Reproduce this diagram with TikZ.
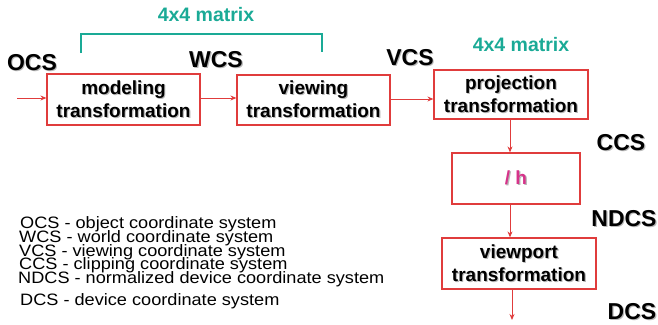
\documentclass[tikz,border=0pt]{standalone}
\usepackage{fontspec}
\setmainfont{Liberation Sans}
\usetikzlibrary{arrows.meta}
\definecolor{boxred}{HTML}{E03C3C}
\definecolor{tealc}{HTML}{1AAA96}
\definecolor{magc}{HTML}{D6338A}
\definecolor{shadowc}{HTML}{B8B8B8}
\newcommand\shtext[1]{\makebox[0pt][l]{\hspace{1.1pt}\raisebox{-1.1pt}{\textcolor{shadowc}{#1}}}#1}
\tikzset{
  tbox/.style={draw=boxred, line width=1.2pt, inner sep=0pt, align=center,
    font=\fontsize{19}{23}\selectfont\bfseries},
  flow/.style={draw=boxred, line width=0.9pt, -{Stealth[length=6pt,width=5pt]}},
  cs/.style={inner sep=1pt, font=\fontsize{23}{26}\selectfont\bfseries},
  mat/.style={text=tealc, font=\fontsize{19.5}{22}\selectfont\bfseries},
  legend/.style={anchor=base west, inner sep=0pt, font=\fontsize{16.5}{18}\selectfont},
}
\begin{document}
\begin{tikzpicture}[x=1pt,y=-1pt]
\useasboundingbox (0,0) rectangle (658,324);
% boxes
\node[tbox, minimum width=153pt, minimum height=51pt] (mod) at (123.5,99.5) {\shtext{modeling}\\\shtext{transformation}};
\node[tbox, minimum width=153pt, minimum height=50pt] (view) at (313.5,100) {\shtext{viewing}\\\shtext{transformation}};
\node[tbox, minimum width=154pt, minimum height=49pt] (proj) at (511,94.5) {\shtext{projection}\\\shtext{transformation}};
\node[tbox, minimum width=128pt, minimum height=51pt, text=magc] (h) at (516,178.5) {\shtext{/ h}};
\node[tbox, minimum width=154pt, minimum height=51pt] (vp) at (519,263.5) {\shtext{viewport}\\\shtext{transformation}};
% coordinate system labels
\node[cs] (ocs) at (32,63) {\shtext{OCS}};
\node[cs] (wcs) at (216,60) {\shtext{WCS}};
\node[cs] (vcs) at (410,58) {\shtext{VCS}};
\node[cs] (ccs) at (621,143) {\shtext{CCS}};
\node[cs] (ndcs) at (624,219) {\shtext{NDCS}};
\node[cs] (dcs) at (632,312) {\shtext{DCS}};
% matrix labels
\node[mat] (m1) at (206,15) {4x4 matrix};
\node[mat] (m2) at (521,45) {4x4 matrix};
\coordinate (bl) at (81,53);
\coordinate (br) at (322,52);
\draw[tealc, line width=1.3pt] (bl) -- (81,34) -- (322,34) -- (br);
% connectors
\coordinate (in) at (17,98);
\coordinate (dcsend) at (512,320);
\draw[flow] (in) -- (mod.west |- in);
\draw[flow] (mod.east |- in) -- (view.west |- in);
\draw[flow] (view.east |- 0,99) -- (proj.west |- 0,99);
\draw[flow] (proj.south -| 510,0) -- (h.north -| 510,0);
\draw[flow] (h.south -| 510,0) -- (vp.north -| 510,0);
\draw[flow] (vp.south -| dcsend) -- (dcsend);
% legend
\node[legend] (l1) at (20,228) {\scalebox{1.1}[1]{OCS - object coordinate system}};
\node[legend] (l2) at (19,242.5) {\scalebox{1.1}[1]{WCS - world coordinate system}};
\node[legend] (l3) at (19,256) {\scalebox{1.1}[1]{VCS - viewing coordinate system}};
\node[legend] (l4) at (19,269) {\scalebox{1.1}[1]{CCS - clipping coordinate system}};
\node[legend] (l5) at (18,283) {\scalebox{1.1}[1]{NDCS - normalized device coordinate system}};
\node[legend] (l6) at (20,305) {\scalebox{1.1}[1]{DCS - device coordinate system}};
\end{tikzpicture}
\end{document}
